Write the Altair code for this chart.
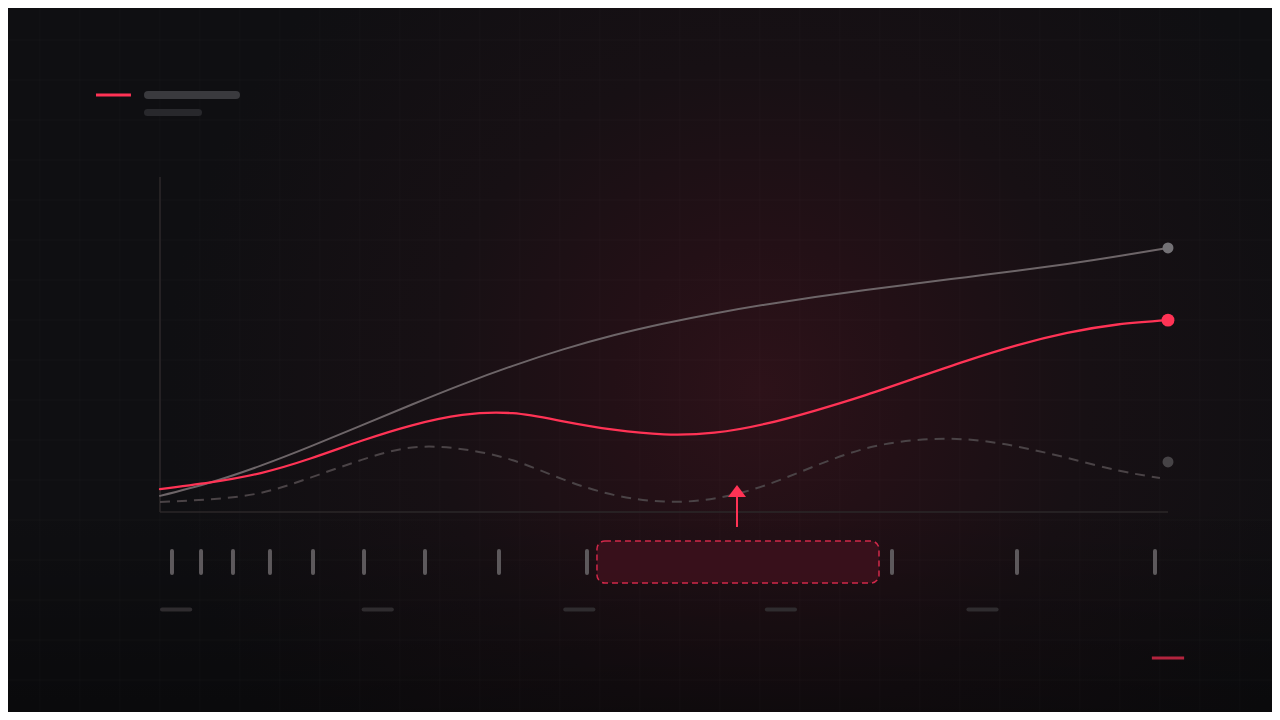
import altair as alt
import pandas as pd
import numpy as np

# ---- chart frame (data units) ----
W, H = 1264, 704
X_MIN = -15.079
X_MAX = X_MIN + W / 10.08
Y_MAX = 150.0
Y_MIN = Y_MAX - H / 3.36

# ---- series ----
x_vals = [0, 5, 10, 15, 20, 25, 30, 35, 40, 45, 50, 55, 60, 65, 70, 75, 80, 85, 90, 95, 100]
gray_vals = [4.8, 8.8, 13.8, 19.6, 25.8, 32.0, 38.0, 43.5, 48.4, 52.6, 56.1, 59.1, 61.7,
             64.0, 66.1, 68.0, 69.9, 71.8, 73.8, 76.1, 78.6]
red_vals = [6.8, 8.8, 11.6, 16.0, 21.2, 25.8, 28.9, 29.4, 27.0, 24.5, 23.1, 23.6, 26.2,
            30.2, 34.8, 39.9, 45.0, 49.6, 53.3, 55.8, 57.1]
dash_x = [0, 5, 10, 15, 20, 25, 30, 35, 40, 45, 50, 55, 60, 65, 70, 75, 80, 85, 90, 95, 99.2]
dash_vals = [3.0, 3.8, 5.7, 10.3, 15.5, 19.2, 18.7, 15.4, 9.7, 5.1, 3.1, 4.0, 7.9, 13.7,
             18.9, 21.4, 21.6, 19.5, 16.1, 12.4, 10.1]

end_x = 100
end_gray = 78.6
end_red = 57.1
end_dim = 14.9

# bottom tick marks
tick_x = [1.19, 4.07, 7.24, 10.91, 15.18, 20.24, 26.29, 33.63, 42.36, 72.62, 85.02, 98.71]
tick_y0, tick_y1 = -11.6, -18.15
# label placeholders
label_x = [0, 20, 40, 60, 80]
label_len = 2.8
label_y = -29.0
# highlighted range
range_x0, range_x1 = 43.35, 71.33
range_y0, range_y1 = -8.63, -21.13
# arrow
arrow_x = 57.24
arrow_y0, arrow_y1 = -4.46, 4.46
arrow_head_y = 6.25
# axis extents
axis_top = 99.7
axis_right = 100
# legend
leg_red = (-6.35, -2.88, 124.1)
leg_bar1 = (-1.19, 7.54, 124.1)
leg_bar2 = (-1.24, 3.82, 118.9)
corner_red = (98.4, 101.6, -43.45)

RED = "#ff3355"

xs = alt.Scale(domain=[X_MIN, X_MAX], nice=False, zero=False)
ys = alt.Scale(domain=[Y_MIN, Y_MAX], nice=False, zero=False)


def X(f="x"):
    return alt.X(f"{f}:Q", scale=xs, axis=None)


def Y(f="y"):
    return alt.Y(f"{f}:Q", scale=ys, axis=None)


# background
bg = alt.Chart(pd.DataFrame({"k": [0]})).mark_rect(
    fill=alt.RadialGradient(
        gradient="radial",
        x1=0.595, y1=0.524, r1=0.0,
        x2=0.595, y2=0.524, r2=0.47,
        stops=[
            alt.GradientStop(color="#2d1219", offset=0.0),
            alt.GradientStop(color="#231016", offset=0.25),
            alt.GradientStop(color="#171014", offset=0.55),
            alt.GradientStop(color="#0f0f12", offset=1.0),
        ],
    )
).encode(x=alt.value(0), x2=alt.value(W), y=alt.value(0), y2=alt.value(H))

vign = alt.Chart(pd.DataFrame({"k": [0]})).mark_rect(
    fill=alt.LinearGradient(
        gradient="linear", x1=0, y1=0, x2=0, y2=1,
        stops=[
            alt.GradientStop(color="rgba(0,0,0,0)", offset=0.0),
            alt.GradientStop(color="rgba(0,0,0,0)", offset=0.7),
            alt.GradientStop(color="rgba(0,0,0,0.35)", offset=1.0),
        ],
    )
).encode(x=alt.value(0), x2=alt.value(W), y=alt.value(0), y2=alt.value(H))

# grid (40px spacing in the picture)
gx = [(40 * k - 160) / 10.08 for k in range(1, 32)]
gy = [(512 - 40 * k) / 3.36 for k in range(1, 18)]
grid_v = alt.Chart(pd.DataFrame({"x": gx})).mark_rule(
    color="#ffffff", opacity=0.025, strokeWidth=1).encode(x=X())
grid_h = alt.Chart(pd.DataFrame({"y": gy})).mark_rule(
    color="#ffffff", opacity=0.025, strokeWidth=1).encode(y=Y())

# axes
axes_df = pd.DataFrame({
    "x": [0, 0], "x2": [0, axis_right], "y": [0, 0], "y2": [axis_top, 0]
})
axes = alt.Chart(axes_df).mark_rule(color="#2b2729", strokeWidth=1.6).encode(
    x=X(), x2="x2:Q", y=Y(), y2="y2:Q")

# lines
gray_line = alt.Chart(pd.DataFrame({"x": x_vals, "y": gray_vals})).mark_line(
    color="#6d6568", strokeWidth=2, interpolate="natural", strokeCap="round"
).encode(x=X(), y=Y())
red_line = alt.Chart(pd.DataFrame({"x": x_vals, "y": red_vals})).mark_line(
    color=RED, strokeWidth=2.3, interpolate="natural", strokeCap="round"
).encode(x=X(), y=Y())
dash_line = alt.Chart(pd.DataFrame({"x": dash_x, "y": dash_vals})).mark_line(
    color="#4a4346", strokeWidth=2, interpolate="natural", strokeDash=[10, 7]
).encode(x=X(), y=Y())

# end points
pts = alt.Chart(pd.DataFrame({
    "x": [end_x, end_x, end_x],
    "y": [end_gray, end_red, end_dim],
    "c": ["#737175", RED, "#464346"],
    "s": [120, 165, 120],
})).mark_circle(opacity=1).encode(
    x=X(), y=Y(), color=alt.Color("c:N", scale=None), size=alt.Size("s:Q", scale=None))

# ticks
ticks = alt.Chart(pd.DataFrame({"x": tick_x, "y": [tick_y0] * len(tick_x),
                                "y2": [tick_y1] * len(tick_x)})).mark_rule(
    color="#5d595c", strokeWidth=4, strokeCap="round").encode(x=X(), y=Y(), y2="y2:Q")

labels = alt.Chart(pd.DataFrame({
    "x": [v + 0.2 for v in label_x],
    "x2": [v + 0.2 + label_len for v in label_x],
    "y": [label_y] * len(label_x)})).mark_rule(
    color="#2f2c2f", strokeWidth=4, strokeCap="round").encode(x=X(), x2="x2:Q", y=Y())

# range box
rng = alt.Chart(pd.DataFrame({"x": [range_x0], "x2": [range_x1],
                              "y": [range_y0], "y2": [range_y1]})).mark_rect(
    fill="#3a111b", fillOpacity=0.95, stroke="#d1284a", strokeWidth=1.5,
    strokeDash=[6, 4], cornerRadius=8).encode(x=X(), x2="x2:Q", y=Y(), y2="y2:Q")

# arrow
arrow_line = alt.Chart(pd.DataFrame({"x": [arrow_x], "y": [arrow_y0], "y2": [arrow_y1]})).mark_rule(
    color=RED, strokeWidth=2).encode(x=X(), y=Y(), y2="y2:Q")
arrow_head = alt.Chart(pd.DataFrame({"x": [arrow_x], "y": [arrow_head_y]})).mark_point(
    shape="M0,-0.667L1,0.667L-1,0.667Z", filled=True, color=RED, opacity=1, size=324
).encode(x=X(), y=Y())

# legend
leg_df = pd.DataFrame({
    "x": [leg_red[0], leg_bar1[0], leg_bar2[0], corner_red[0]],
    "x2": [leg_red[1], leg_bar1[1], leg_bar2[1], corner_red[1]],
    "y": [leg_red[2], leg_bar1[2], leg_bar2[2], corner_red[2]],
    "c": [RED, "#3a3a3e", "#28282c", "#b3243e"],
    "w": [3, 8, 7, 3],
    "cap": ["butt", "round", "round", "butt"],
})
leg_lines = alt.Chart(leg_df[leg_df.cap == "butt"]).mark_rule(strokeCap="butt").encode(
    x=X(), x2="x2:Q", y=Y(), color=alt.Color("c:N", scale=None),
    strokeWidth=alt.StrokeWidth("w:Q", scale=None))
leg_bars = alt.Chart(leg_df[leg_df.cap == "round"]).mark_rule(strokeCap="round").encode(
    x=X(), x2="x2:Q", y=Y(), color=alt.Color("c:N", scale=None),
    strokeWidth=alt.StrokeWidth("w:Q", scale=None))

chart = alt.layer(
    bg, vign, grid_v, grid_h, axes, dash_line, gray_line, red_line, pts,
    ticks, labels, rng, arrow_line, arrow_head, leg_lines, leg_bars
).properties(
    width=W, height=H, padding=0, autosize=alt.AutoSizeParams(type="none"),
    background="#0e0e11"
).configure_view(stroke=None)

chart.save("out.html", embed_options={"renderer": "svg", "actions": False})
